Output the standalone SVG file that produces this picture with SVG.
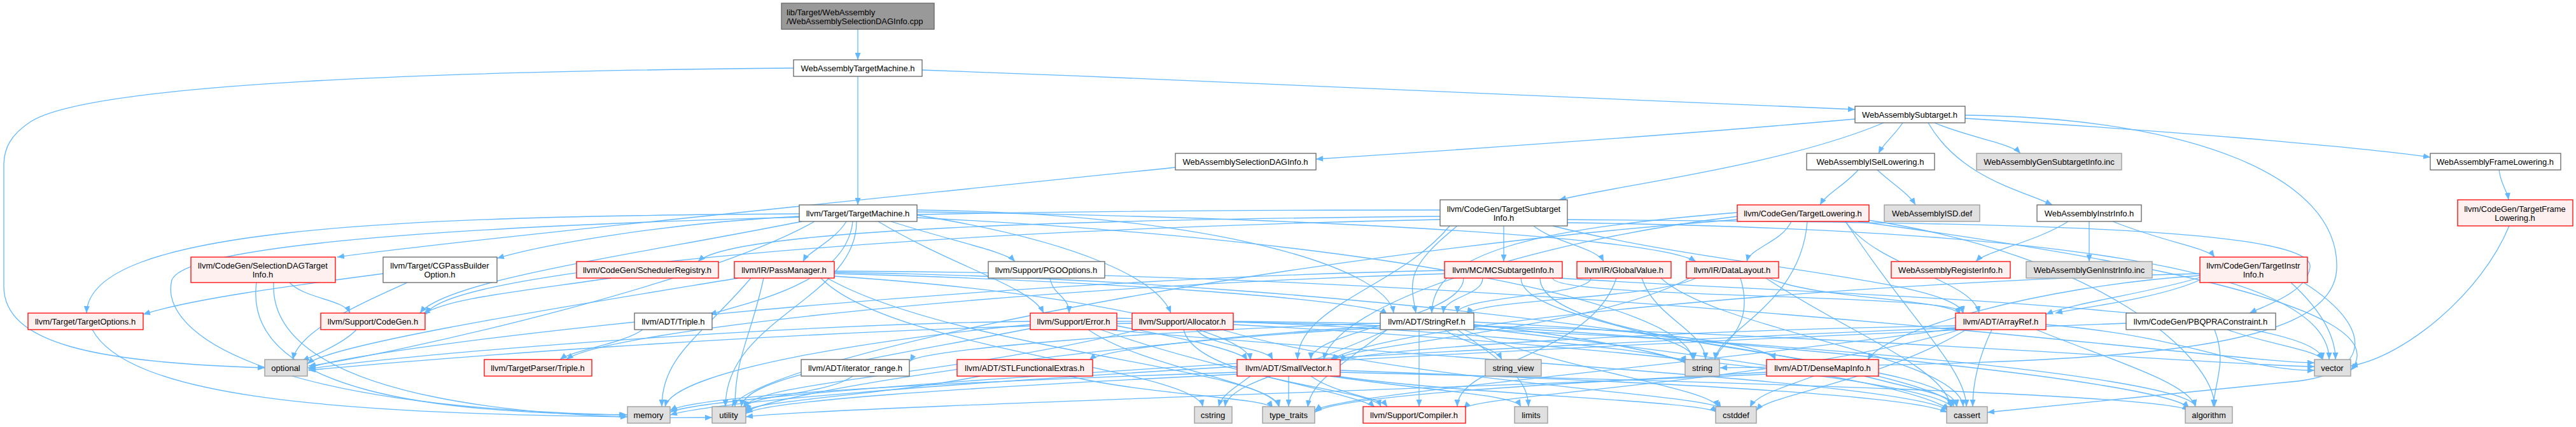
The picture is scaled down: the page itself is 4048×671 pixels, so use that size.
<svg xmlns="http://www.w3.org/2000/svg" width="4048" height="671" viewBox="0 0 4048 671">
<style>
rect{stroke-width:1.3}
.w rect{fill:#ffffff;stroke:#666666}
.r rect{fill:#fff0f0;stroke:#ff0000}
.g rect{fill:#e0e0e0;stroke:#999999}
.t rect{fill:#999999;stroke:#666666}
text{font-family:"Liberation Sans",Arial,Helvetica,sans-serif;font-size:13px;fill:#000000;text-anchor:middle}
.t text{text-anchor:start}
#edges path{fill:none;stroke:#63b8ff;stroke-width:1.3;marker-end:url(#ah)}
</style>
<defs>
<marker id="ah" markerUnits="userSpaceOnUse" markerWidth="12" markerHeight="9" refX="11" refY="4.5" orient="auto">
<path d="M0,0 L11,4.5 L0,9 z" fill="#63b8ff"/>
</marker>
</defs>
<rect x="0" y="0" width="4048" height="671" fill="#ffffff"/>
<g id="edges">
<path d="M1348,46 L1348,94"/>
<path d="M1348,120 L1348,322"/>
<path d="M1449,110 C2000,130 2600,158 2915,172"/>
<path d="M1247,107 C700,112 150,130 50,190 C15,212 6,235 6,260 L6,450 C6,540 150,570 416,578"/>
<path d="M2915,187 C2600,215 2300,235 2068,250"/>
<path d="M2960,193 C2800,260 2550,290 2450,314"/>
<path d="M2990,193 C2975,215 2960,225 2952,241"/>
<path d="M3040,193 C3090,215 3160,225 3175,241"/>
<path d="M3030,193 C3080,280 3180,300 3225,322"/>
<path d="M3088,186 C3400,205 3700,230 3819,247"/>
<path d="M3088,181 C3450,185 3675,280 3672,420 C3670,560 3300,570 2703,578"/>
<path d="M1847,263 C1300,320 700,380 530,404"/>
<path d="M2920,267 C2900,290 2870,305 2860,322"/>
<path d="M2950,267 C2975,290 3000,305 3010,322"/>
<path d="M3250,348 C3200,380 3120,395 3105,411"/>
<path d="M3283,348 L3283,411"/>
<path d="M3320,348 C3400,380 3470,390 3480,404"/>
<path d="M3927,267 C3930,290 3940,300 3942,314"/>
<path d="M3943,355 C3900,460 3780,560 3694,575"/>
<path d="M3600,444 C3650,490 3670,530 3670,565"/>
<path d="M3457,436 C3380,460 3260,475 3215,494"/>
<path d="M3457,440 C3390,470 3260,485 3230,492"/>
<path d="M3620,444 C3740,520 3720,590 3600,600 C3400,620 3200,640 3123,648"/>
<path d="M3457,430 C3000,440 2200,500 2090,566"/>
<path d="M3457,433 C3200,450 2960,520 2935,566"/>
<path d="M2463,345 C3000,350 3640,350 3630,420 C3625,460 3560,480 3535,492"/>
<path d="M1441,330 C1900,335 2180,420 2190,492"/>
<path d="M1340,348 C1330,440 1200,470 1115,494"/>
<path d="M1441,333 C2000,340 2600,370 2665,411"/>
<path d="M1330,348 C1310,380 1270,395 1262,411"/>
<path d="M1441,338 C1700,380 1820,440 1840,492"/>
<path d="M1260,348 C1000,400 700,440 660,492"/>
<path d="M1380,348 C1500,420 1620,450 1640,492"/>
<path d="M1400,348 C1500,380 1580,395 1595,411"/>
<path d="M1256,340 C1050,350 850,385 781,406"/>
<path d="M1256,336 C600,340 140,360 136,492"/>
<path d="M1280,348 C1100,450 600,560 485,575"/>
<path d="M1441,342 C2200,380 2650,480 2660,565"/>
<path d="M1346,348 C1346,470 1140,500 1140,639"/>
<path d="M2440,355 C2700,420 3070,440 3085,492"/>
<path d="M2278,355 C2200,450 2040,480 2039,565"/>
<path d="M2290,355 C2210,420 2215,440 2225,492"/>
<path d="M2263,340 C1700,345 1150,360 1097,411"/>
<path d="M2363,355 L2363,411"/>
<path d="M2263,345 C1500,360 700,420 670,494"/>
<path d="M2263,330 C1200,330 300,360 270,440 C250,520 400,640 984,652"/>
<path d="M2463,350 C3200,360 3660,420 3660,565"/>
<path d="M2410,355 C2440,380 2510,390 2520,411"/>
<path d="M2815,348 C2800,380 2750,390 2745,411"/>
<path d="M2840,348 C2830,480 2700,520 2695,565"/>
<path d="M2900,348 C2950,420 3100,440 3110,492"/>
<path d="M2730,334 C2400,360 2250,400 2250,492"/>
<path d="M2730,340 C2400,380 2100,480 2080,565"/>
<path d="M2920,348 C3300,400 3780,480 3694,582"/>
<path d="M2930,345 C3300,400 3480,560 3480,639"/>
<path d="M2900,348 C3000,500 3090,580 3090,639"/>
<path d="M2730,345 C2000,400 1200,560 1150,639"/>
<path d="M2275,430 C1600,450 950,520 890,565"/>
<path d="M2440,437 C2440,470 3080,460 3085,492"/>
<path d="M2300,437 C2300,500 2060,520 2060,565"/>
<path d="M2330,437 C2330,465 2270,465 2268,492"/>
<path d="M2390,437 C2390,500 2662,520 2662,565"/>
<path d="M2450,437 C2800,460 3640,480 3650,565"/>
<path d="M2420,437 C2420,550 3070,560 3075,639"/>
<path d="M2270,425 C1500,440 600,540 485,578"/>
<path d="M2500,437 C2500,465 2290,465 2290,492"/>
<path d="M2580,437 C2600,500 2680,520 2680,565"/>
<path d="M2540,437 C2500,560 2290,570 2290,639"/>
<path d="M2610,437 C2700,520 3080,560 3085,639"/>
<path d="M2665,437 C2600,470 2320,470 2305,494"/>
<path d="M2655,437 C2500,520 2110,540 2095,568"/>
<path d="M2780,437 C2850,470 3070,470 3080,494"/>
<path d="M2735,437 C2760,520 2700,540 2695,565"/>
<path d="M2775,437 C2900,520 3060,580 3065,639"/>
<path d="M1650,437 C1655,465 1680,465 1680,492"/>
<path d="M1311,430 C1700,440 2150,470 2180,494"/>
<path d="M1311,434 C1700,460 1960,520 1965,566"/>
<path d="M1180,437 C1100,530 1040,560 1040,639"/>
<path d="M1200,437 C1180,530 1155,560 1155,639"/>
<path d="M1300,437 C1500,550 2000,580 2010,639"/>
<path d="M1290,437 C1400,550 1880,580 1890,639"/>
<path d="M1311,428 C2200,440 3060,580 3070,639"/>
<path d="M1311,426 C2500,430 3500,570 3637,570"/>
<path d="M1160,437 C900,480 520,540 483,572"/>
<path d="M455,444 C480,470 540,470 550,492"/>
<path d="M403,444 C380,620 700,650 986,652"/>
<path d="M430,444 C420,640 900,660 1119,656"/>
<path d="M640,444 C560,480 470,520 460,565"/>
<path d="M602,430 C450,450 300,470 225,494"/>
<path d="M960,437 C800,460 700,470 665,494"/>
<path d="M145,518 C200,620 500,650 986,655"/>
<path d="M560,518 C540,540 490,560 475,567"/>
<path d="M1010,518 C980,540 900,550 880,565"/>
<path d="M1755,512 C1850,530 1950,550 1960,566"/>
<path d="M1619,510 C1400,530 1060,580 1045,639"/>
<path d="M1625,515 C1400,560 1170,590 1165,639"/>
<path d="M1619,505 C1200,510 600,560 485,580"/>
<path d="M1755,500 C2200,510 2640,550 2650,570"/>
<path d="M1710,518 C1800,580 2000,600 2010,640"/>
<path d="M1740,518 C2200,560 3000,600 3062,645"/>
<path d="M1755,505 C2600,500 3500,576 3637,576"/>
<path d="M1730,518 C1900,580 2140,620 2160,640"/>
<path d="M1880,518 C1900,545 1990,545 2000,565"/>
<path d="M1860,518 C1880,600 2160,610 2170,639"/>
<path d="M1938,510 C2500,540 3050,600 3068,641"/>
<path d="M1938,506 C2700,520 3440,590 3450,639"/>
<path d="M1920,518 C2200,600 2690,620 2705,642"/>
<path d="M1790,518 C1500,590 1180,600 1170,641"/>
<path d="M1779,508 C1200,520 600,570 485,582"/>
<path d="M2316,506 C2600,520 2780,540 2790,566"/>
<path d="M2169,512 C1900,530 1730,550 1712,566"/>
<path d="M2169,508 C1800,520 1440,550 1430,568"/>
<path d="M2230,518 C2230,580 2230,600 2230,639"/>
<path d="M2316,512 C2800,540 3400,600 3440,641"/>
<path d="M2316,515 C2700,560 3000,600 3064,644"/>
<path d="M2300,518 C2450,580 2690,610 2700,640"/>
<path d="M2180,518 C2050,580 1930,600 1925,639"/>
<path d="M2290,518 C2380,580 2400,600 2402,639"/>
<path d="M2316,510 C2500,530 2640,560 2650,572"/>
<path d="M2270,518 C2300,540 2350,545 2360,565"/>
<path d="M2180,518 C2100,580 2060,600 2055,640"/>
<path d="M2169,515 C1700,540 1200,620 1172,648"/>
<path d="M3073,512 C2600,520 2120,550 2106,568"/>
<path d="M3080,518 C2800,600 2320,620 2300,642"/>
<path d="M3200,518 C3300,560 3440,600 3450,639"/>
<path d="M3130,518 C3110,560 3100,600 3100,639"/>
<path d="M3090,518 C2950,600 2780,620 2760,645"/>
<path d="M3073,515 C2000,560 1100,620 1053,648"/>
<path d="M3075,516 C2600,580 2100,620 2066,645"/>
<path d="M3215,510 C3450,530 3520,582 3637,582"/>
<path d="M3500,518 C3560,540 3640,550 3650,565"/>
<path d="M3480,518 C3500,570 3480,600 3478,639"/>
<path d="M3341,508 C2500,540 1200,610 1053,652"/>
<path d="M1340,591 C1300,620 1180,620 1168,641"/>
<path d="M1680,591 C1800,620 1990,625 2000,641"/>
<path d="M1540,591 C1400,620 1180,630 1172,646"/>
<path d="M2060,591 C2100,620 2170,625 2180,639"/>
<path d="M2025,591 L2025,639"/>
<path d="M2106,585 C2700,600 3400,620 3440,645"/>
<path d="M2106,582 C2600,600 3000,620 3060,648"/>
<path d="M2100,591 C2300,620 2680,630 2698,648"/>
<path d="M1965,591 C1940,610 1920,620 1915,639"/>
<path d="M2090,591 C2250,615 2380,620 2390,639"/>
<path d="M1944,585 C1500,600 1100,620 1053,645"/>
<path d="M1944,588 C1500,610 1200,630 1172,650"/>
<path d="M2850,591 C2800,610 2760,620 2750,640"/>
<path d="M2930,591 C3000,610 3070,620 3075,639"/>
<path d="M2776,585 C2500,600 2100,620 2066,648"/>
<path d="M2776,588 C2300,610 1300,640 1172,655"/>
</g>
<g id="n_title" class="t"><rect x="1228" y="5" width="240" height="41"/><text x="1236" y="24">lib/Target/WebAssembly</text><text x="1236" y="38">/WebAssemblySelectionDAGInfo.cpp</text></g>
<g id="n_watm" class="w"><rect x="1247" y="94" width="202" height="26"/><text x="1348" y="112">WebAssemblyTargetMachine.h</text></g>
<g id="n_wasub" class="w"><rect x="2915" y="167" width="173" height="26"/><text x="3001" y="185">WebAssemblySubtarget.h</text></g>
<g id="n_waseldag" class="w"><rect x="1847" y="241" width="221" height="26"/><text x="1957" y="259">WebAssemblySelectionDAGInfo.h</text></g>
<g id="n_waisel" class="w"><rect x="2839" y="241" width="201" height="26"/><text x="2939" y="259">WebAssemblyISelLowering.h</text></g>
<g id="n_wagensub" class="g"><rect x="3106" y="241" width="228" height="26"/><text x="3220" y="259">WebAssemblyGenSubtargetInfo.inc</text></g>
<g id="n_waframe" class="w"><rect x="3819" y="241" width="205" height="26"/><text x="3921" y="259">WebAssemblyFrameLowering.h</text></g>
<g id="n_tm" class="w"><rect x="1256" y="322" width="185" height="26"/><text x="1348" y="340">llvm/Target/TargetMachine.h</text></g>
<g id="n_tsi" class="w"><rect x="2263" y="314" width="200" height="41"/><text x="2363" y="333">llvm/CodeGen/TargetSubtarget</text><text x="2363" y="347">Info.h</text></g>
<g id="n_tl" class="r"><rect x="2730" y="322" width="207" height="26"/><text x="2833" y="340">llvm/CodeGen/TargetLowering.h</text></g>
<g id="n_waisd" class="g"><rect x="2961" y="322" width="150" height="26"/><text x="3036" y="340">WebAssemblyISD.def</text></g>
<g id="n_wainstr" class="w"><rect x="3201" y="322" width="164" height="26"/><text x="3283" y="340">WebAssemblyInstrInfo.h</text></g>
<g id="n_tfl" class="r"><rect x="3862" y="314" width="181" height="41"/><text x="3952" y="333">llvm/CodeGen/TargetFrame</text><text x="3952" y="347">Lowering.h</text></g>
<g id="n_seldagti" class="r"><rect x="300" y="404" width="227" height="40"/><text x="413" y="422">llvm/CodeGen/SelectionDAGTarget</text><text x="413" y="436">Info.h</text></g>
<g id="n_cgpbo" class="w"><rect x="602" y="404" width="179" height="40"/><text x="691" y="422">llvm/Target/CGPassBuilder</text><text x="691" y="436">Option.h</text></g>
<g id="n_schedreg" class="r"><rect x="906" y="411" width="223" height="26"/><text x="1017" y="429">llvm/CodeGen/SchedulerRegistry.h</text></g>
<g id="n_passmgr" class="r"><rect x="1154" y="411" width="157" height="26"/><text x="1232" y="429">llvm/IR/PassManager.h</text></g>
<g id="n_pgo" class="w"><rect x="1553" y="411" width="183" height="26"/><text x="1644" y="429">llvm/Support/PGOOptions.h</text></g>
<g id="n_mcsti" class="r"><rect x="2270" y="411" width="185" height="26"/><text x="2362" y="429">llvm/MC/MCSubtargetInfo.h</text></g>
<g id="n_gv" class="r"><rect x="2478" y="411" width="148" height="26"/><text x="2552" y="429">llvm/IR/GlobalValue.h</text></g>
<g id="n_dl" class="r"><rect x="2650" y="411" width="145" height="26"/><text x="2722" y="429">llvm/IR/DataLayout.h</text></g>
<g id="n_wareg" class="r"><rect x="2972" y="411" width="187" height="26"/><text x="3065" y="429">WebAssemblyRegisterInfo.h</text></g>
<g id="n_wageninstr" class="g"><rect x="3184" y="411" width="198" height="26"/><text x="3283" y="429">WebAssemblyGenInstrInfo.inc</text></g>
<g id="n_tii" class="r"><rect x="3457" y="404" width="169" height="40"/><text x="3541" y="422">llvm/CodeGen/TargetInstr</text><text x="3541" y="436">Info.h</text></g>
<g id="n_to" class="r"><rect x="44" y="492" width="181" height="26"/><text x="134" y="510">llvm/Target/TargetOptions.h</text></g>
<g id="n_cg" class="r"><rect x="504" y="492" width="164" height="26"/><text x="586" y="510">llvm/Support/CodeGen.h</text></g>
<g id="n_adttriple" class="w"><rect x="997" y="492" width="122" height="26"/><text x="1058" y="510">llvm/ADT/Triple.h</text></g>
<g id="n_error" class="r"><rect x="1619" y="492" width="136" height="26"/><text x="1687" y="510">llvm/Support/Error.h</text></g>
<g id="n_alloc" class="r"><rect x="1779" y="492" width="159" height="26"/><text x="1858" y="510">llvm/Support/Allocator.h</text></g>
<g id="n_stringref" class="w"><rect x="2169" y="492" width="147" height="26"/><text x="2242" y="510">llvm/ADT/StringRef.h</text></g>
<g id="n_arrayref" class="r"><rect x="3073" y="492" width="142" height="26"/><text x="3144" y="510">llvm/ADT/ArrayRef.h</text></g>
<g id="n_pbqp" class="w"><rect x="3341" y="492" width="235" height="26"/><text x="3458" y="510">llvm/CodeGen/PBQPRAConstraint.h</text></g>
<g id="n_optional" class="g"><rect x="416" y="565" width="67" height="26"/><text x="449" y="583">optional</text></g>
<g id="n_tptriple" class="r"><rect x="761" y="565" width="169" height="26"/><text x="845" y="583">llvm/TargetParser/Triple.h</text></g>
<g id="n_iter" class="w"><rect x="1259" y="565" width="170" height="26"/><text x="1344" y="583">llvm/ADT/iterator_range.h</text></g>
<g id="n_stlfe" class="r"><rect x="1504" y="565" width="213" height="26"/><text x="1610" y="583">llvm/ADT/STLFunctionalExtras.h</text></g>
<g id="n_smallvec" class="r"><rect x="1944" y="565" width="162" height="26"/><text x="2025" y="583">llvm/ADT/SmallVector.h</text></g>
<g id="n_strview" class="g"><rect x="2334" y="565" width="88" height="26"/><text x="2378" y="583">string_view</text></g>
<g id="n_string" class="g"><rect x="2648" y="565" width="54" height="26"/><text x="2675" y="583">string</text></g>
<g id="n_dmi" class="r"><rect x="2776" y="565" width="176" height="26"/><text x="2864" y="583">llvm/ADT/DenseMapInfo.h</text></g>
<g id="n_vector" class="g"><rect x="3637" y="565" width="57" height="26"/><text x="3665" y="583">vector</text></g>
<g id="n_memory" class="g"><rect x="986" y="639" width="67" height="26"/><text x="1019" y="657">memory</text></g>
<g id="n_utility" class="g"><rect x="1119" y="639" width="53" height="26"/><text x="1145" y="657">utility</text></g>
<g id="n_cstring" class="g"><rect x="1877" y="639" width="59" height="26"/><text x="1906" y="657">cstring</text></g>
<g id="n_typetraits" class="g"><rect x="1984" y="639" width="82" height="26"/><text x="2025" y="657">type_traits</text></g>
<g id="n_compiler" class="r"><rect x="2142" y="639" width="161" height="26"/><text x="2222" y="657">llvm/Support/Compiler.h</text></g>
<g id="n_limits" class="g"><rect x="2380" y="639" width="52" height="26"/><text x="2406" y="657">limits</text></g>
<g id="n_cstddef" class="g"><rect x="2696" y="639" width="64" height="26"/><text x="2728" y="657">cstddef</text></g>
<g id="n_cassert" class="g"><rect x="3059" y="639" width="64" height="26"/><text x="3091" y="657">cassert</text></g>
<g id="n_algorithm" class="g"><rect x="3434" y="639" width="74" height="26"/><text x="3471" y="657">algorithm</text></g>
</svg>
